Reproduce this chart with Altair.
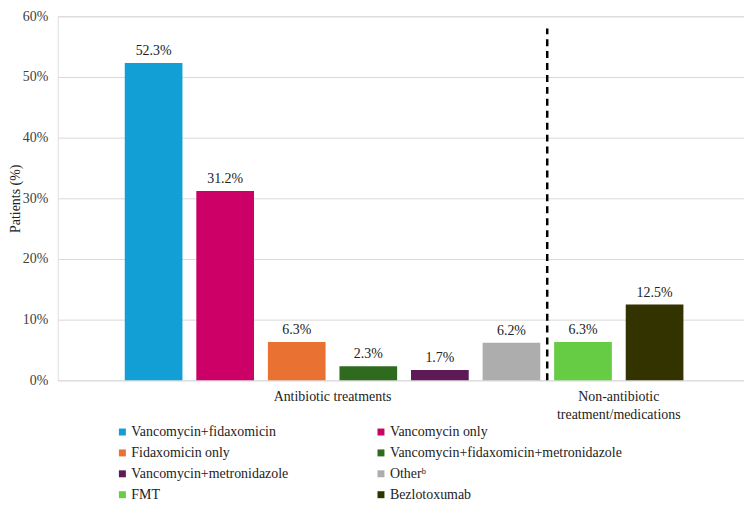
import altair as alt
import pandas as pd

categories = [
    "Vancomycin+fidaxomicin",
    "Vancomycin only",
    "Fidaxomicin only",
    "Vancomycin+fidaxomicin+metronidazole",
    "Vancomycin+metronidazole",
    "Other\u1d47",
    "FMT",
    "Bezlotoxumab",
]
values = [52.3, 31.2, 6.3, 2.3, 1.7, 6.2, 6.3, 12.5]
labels = ["52.3%", "31.2%", "6.3%", "2.3%", "1.7%", "6.2%", "6.3%", "12.5%"]
groups = ["Antibiotic treatments"] * 6 + ["Non-antibiotic treatment/medications"] * 2
group_names = ["Antibiotic treatments", "Non-antibiotic\ntreatment/medications"]
colors = ["#129FD6", "#CC0066", "#E97132", "#2E6B1F", "#5E1A56", "#ADADAD", "#66CC44", "#333300"]

FONT = "'Liberation Serif', 'Times New Roman', Times, serif"

df = pd.DataFrame({
    "cat": categories,
    "val": values,
    "label": labels,
    "pos": list(range(1, len(categories) + 1)),
    "group": groups,
})

n_anti = groups.count("Antibiotic treatments")
grp_df = pd.DataFrame({
    "name": group_names,
    "pos": [(1 + n_anti) / 2, (n_anti + 1 + len(categories)) / 2],
    "y": [0, 0],
})
divider_df = pd.DataFrame({"pos": [n_anti + 0.5], "y": [0], "y2": [58]})

H = 366
xscale = alt.Scale(domain=[-0.27, 9.18], nice=False, zero=False)
x = alt.X("pos:Q", scale=xscale, axis=None)
yscale = alt.Scale(domain=[0, 60], nice=False)

bars = alt.Chart(df).mark_bar(size=58).encode(
    x=x,
    y=alt.Y(
        "val:Q",
        scale=yscale,
        axis=alt.Axis(
            title="Patients (%)",
            values=[0, 10, 20, 30, 40, 50, 60],
            labelExpr="datum.value + '%'",
            domain=False,
            ticks=False,
            grid=True,
            gridColor="#D9D9D9",
            gridWidth=1,
            labelFont=FONT,
            labelFontSize=14,
            labelColor="#404040",
            labelPadding=10,
            titleFont=FONT,
            titleFontSize=14,
            titleFontWeight="normal",
            titleColor="#222222",
            titleX=-42,
            titleY=H / 2,
            titleBaseline="middle",
            titleAngle=270,
        ),
    ),
    color=alt.Color(
        "cat:N",
        scale=alt.Scale(domain=categories, range=colors),
        sort=categories,
        legend=alt.Legend(
            title=None,
            orient="none",
            direction="horizontal",
            legendX=58,
            legendY=411,
            columns=2,
            columnPadding=86,
            rowPadding=7,
            gridAlign="each",
            symbolType="square",
            symbolSize=49,
            symbolStrokeWidth=0,
            symbolOffset=0,
            labelOffset=2,
            labelFont=FONT,
            labelFontSize=14,
            labelColor="#222222",
            labelLimit=400,
        ),
    ),
)

text = alt.Chart(df).mark_text(
    font=FONT, fontSize=14, color="#222222", baseline="bottom", dy=-5
).encode(x=x, y=alt.Y("val:Q", scale=yscale), text="label:N")

divider = alt.Chart(divider_df).mark_rule(
    color="black", strokeWidth=2.5, strokeDash=[7, 5]
).encode(x=x, y=alt.Y("y:Q", scale=yscale), y2="y2:Q")

grp_text = alt.Chart(grp_df).mark_text(
    font=FONT, fontSize=14, color="#222222", baseline="top", dy=10, lineBreak="\n", lineHeight=18
).encode(x=x, y=alt.Y("y:Q", scale=yscale), text="name:N")

chart = alt.layer(bars, text, divider, grp_text).properties(
    width=690,
    height=H,
    autosize=alt.AutoSizeParams(type="none"),
    padding={"left": 50, "top": 7, "right": 0, "bottom": 120},
).configure_view(stroke=None).configure(font=FONT)

chart.save("out.html", embed_options={"renderer": "svg", "actions": False})
